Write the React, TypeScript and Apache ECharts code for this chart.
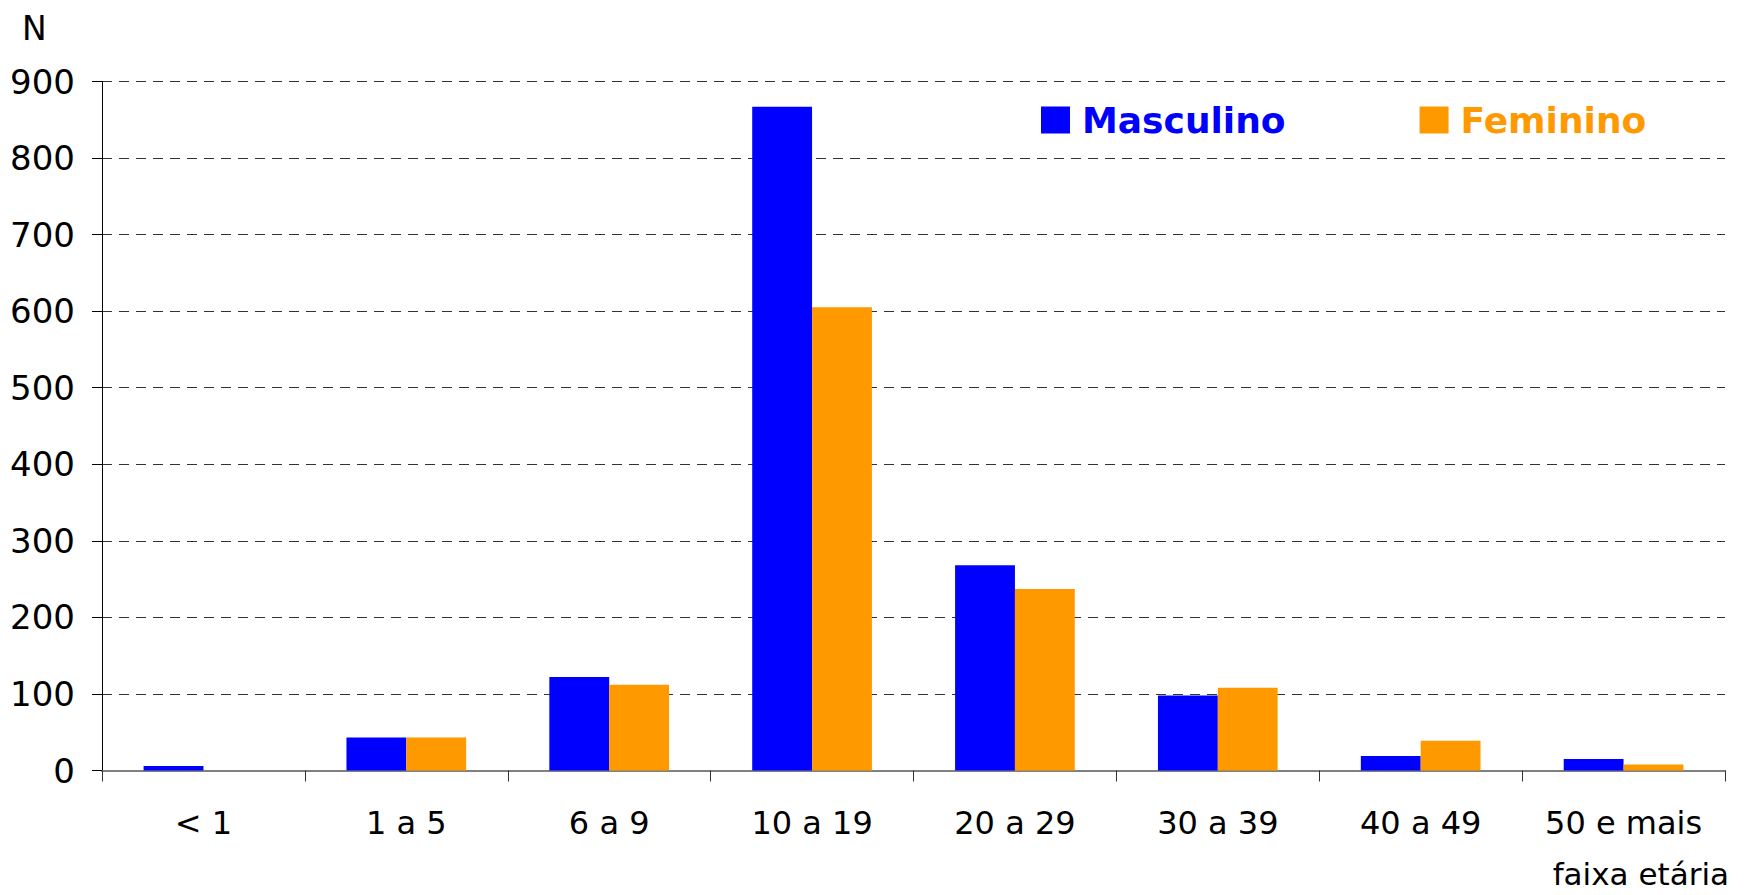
import React, { useEffect, useRef } from "react";
import * as echarts from "echarts";

const categories = ["< 1", "1 a 5", "6 a 9", "10 a 19", "20 a 29", "30 a 39", "40 a 49", "50 e mais"];
const masculino = [6, 43, 122, 867, 268, 98, 19, 15];
const feminino = [0, 43, 112, 605, 237, 108, 39, 8];
const yTicks = { min: 0, max: 900, interval: 100 };

const BLUE = "#0000FF";
const ORANGE = "#FF9900";
const FONT = "DejaVu Sans";

export default function App() {
  const ref = useRef<HTMLDivElement>(null);
  useEffect(() => {
    if (!ref.current) return;
    const chart = echarts.init(ref.current, undefined, { renderer: "svg" });
    chart.setOption({
      animation: false,
      backgroundColor: "#ffffff",
      grid: { left: 102, right: 26, top: 81.5, bottom: 124.5, containLabel: false },
      legend: {
        top: 102,
        left: 1041,
        padding: 0,
        itemWidth: 29,
        itemHeight: 27,
        itemGap: 134,
        icon: "rect",
        data: [
          { name: "Masculino", textStyle: { color: BLUE } },
          { name: "Feminino", textStyle: { color: ORANGE } },
        ],
        textStyle: { fontFamily: FONT, fontSize: 36, fontWeight: "bold", padding: [0, 0, 0, 7] },
      },
      xAxis: {
        type: "category",
        data: categories,
        axisLine: { lineStyle: { color: "#808080", width: 2 } },
        axisTick: { show: true, length: 11, lineStyle: { color: "#333333", width: 1 } },
        axisLabel: { color: "#000000", fontFamily: FONT, fontSize: 32, margin: 36, interval: 0 },
        splitLine: { show: false },
      },
      yAxis: {
        type: "value",
        min: yTicks.min,
        max: yTicks.max,
        interval: yTicks.interval,
        axisLine: { show: true, lineStyle: { color: "#000000", width: 1 } },
        axisTick: { show: true, length: 10, lineStyle: { color: "#000000" } },
        axisLabel: { color: "#000000", fontFamily: FONT, fontSize: 34, margin: 27 },
        splitLine: { show: true, lineStyle: { color: "#333333", type: [10, 7], width: 1 } },
      },
      series: [
        {
          name: "Masculino",
          type: "bar",
          data: masculino,
          itemStyle: { color: BLUE },
          barGap: "0%",
          barCategoryGap: "41%",
        },
        {
          name: "Feminino",
          type: "bar",
          data: feminino,
          itemStyle: { color: ORANGE },
          barGap: "0%",
          barCategoryGap: "41%",
        },
      ],
      graphic: [
        {
          type: "text",
          left: 22,
          top: 12,
          style: { text: "N", fontFamily: FONT, fontSize: 33, fill: "#000000" },
        },
        {
          type: "text",
          right: 22,
          top: 858,
          style: { text: "faixa etária", fontFamily: FONT, fontSize: 31, fill: "#000000" },
        },
      ],
    });
    return () => chart.dispose();
  }, []);
  return (
    <div
      ref={ref}
      style={{ position: "fixed", left: 0, top: 0, width: "1751px", height: "895px", background: "#fff" }}
    />
  );
}
